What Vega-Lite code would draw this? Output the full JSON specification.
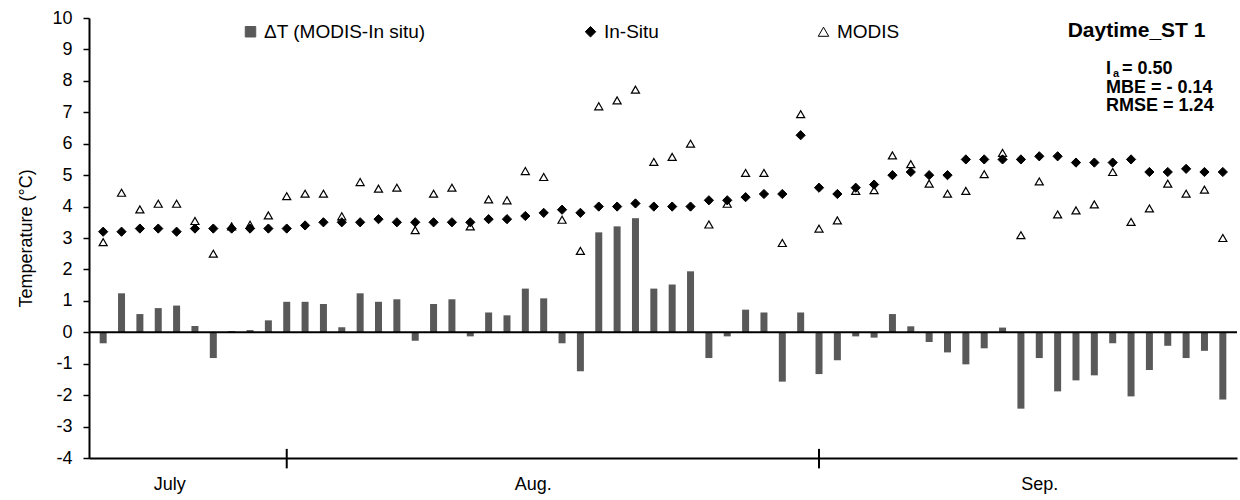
{
  "$schema": "https://vega.github.io/schema/vega-lite/v6.json",
  "width": 1148,
  "height": 440,
  "autosize": {"type": "none"},
  "padding": {"left": 89, "top": 18, "right": 3, "bottom": 42},
  "background": "white",
  "config": {
    "font": "Liberation Sans",
    "view": {"stroke": null},
    "axis": {"grid": false},
    "axisY": {
      "tickSize": 6, "tickColor": "black", "tickWidth": 1.5,
      "domainColor": "black", "domainWidth": 2,
      "labelFontSize": 18, "labelColor": "black", "labelPadding": 11,
      "labelOverlap": false, "labelFlush": false,
      "titleFontSize": 18, "titleFontWeight": "normal", "titleColor": "black", "titlePadding": 16
    },
    "axisX": {
      "ticks": false, "domainColor": "black", "domainWidth": 2,
      "labelFontSize": 18, "labelColor": "black", "labelPadding": 17,
      "labelFlush": false, "labelOverlap": false
    }
  },
  "datasets": {
    "temps": [
      {"day": 0, "ΔT (MODIS-In situ)": -0.35, "In-Situ": 3.2, "MODIS": 2.87},
      {"day": 1, "ΔT (MODIS-In situ)": 1.24, "In-Situ": 3.2, "MODIS": 4.44},
      {"day": 2, "ΔT (MODIS-In situ)": 0.58, "In-Situ": 3.3, "MODIS": 3.91},
      {"day": 3, "ΔT (MODIS-In situ)": 0.77, "In-Situ": 3.3, "MODIS": 4.09},
      {"day": 4, "ΔT (MODIS-In situ)": 0.85, "In-Situ": 3.2, "MODIS": 4.09},
      {"day": 5, "ΔT (MODIS-In situ)": 0.2, "In-Situ": 3.3, "MODIS": 3.54},
      {"day": 6, "ΔT (MODIS-In situ)": -0.82, "In-Situ": 3.3, "MODIS": 2.5},
      {"day": 7, "ΔT (MODIS-In situ)": 0.04, "In-Situ": 3.3, "MODIS": 3.37},
      {"day": 8, "ΔT (MODIS-In situ)": 0.07, "In-Situ": 3.3, "MODIS": 3.42},
      {"day": 9, "ΔT (MODIS-In situ)": 0.38, "In-Situ": 3.3, "MODIS": 3.72},
      {"day": 10, "ΔT (MODIS-In situ)": 0.97, "In-Situ": 3.3, "MODIS": 4.33},
      {"day": 11, "ΔT (MODIS-In situ)": 0.97, "In-Situ": 3.4, "MODIS": 4.41},
      {"day": 12, "ΔT (MODIS-In situ)": 0.9, "In-Situ": 3.5, "MODIS": 4.41},
      {"day": 13, "ΔT (MODIS-In situ)": 0.16, "In-Situ": 3.5, "MODIS": 3.69},
      {"day": 14, "ΔT (MODIS-In situ)": 1.24, "In-Situ": 3.5, "MODIS": 4.78},
      {"day": 15, "ΔT (MODIS-In situ)": 0.97, "In-Situ": 3.6, "MODIS": 4.57},
      {"day": 16, "ΔT (MODIS-In situ)": 1.05, "In-Situ": 3.5, "MODIS": 4.6},
      {"day": 17, "ΔT (MODIS-In situ)": -0.27, "In-Situ": 3.5, "MODIS": 3.25},
      {"day": 18, "ΔT (MODIS-In situ)": 0.9, "In-Situ": 3.5, "MODIS": 4.41},
      {"day": 19, "ΔT (MODIS-In situ)": 1.05, "In-Situ": 3.5, "MODIS": 4.6},
      {"day": 20, "ΔT (MODIS-In situ)": -0.13, "In-Situ": 3.5, "MODIS": 3.37},
      {"day": 21, "ΔT (MODIS-In situ)": 0.63, "In-Situ": 3.6, "MODIS": 4.23},
      {"day": 22, "ΔT (MODIS-In situ)": 0.54, "In-Situ": 3.6, "MODIS": 4.2},
      {"day": 23, "ΔT (MODIS-In situ)": 1.39, "In-Situ": 3.7, "MODIS": 5.13},
      {"day": 24, "ΔT (MODIS-In situ)": 1.08, "In-Situ": 3.8, "MODIS": 4.94},
      {"day": 25, "ΔT (MODIS-In situ)": -0.35, "In-Situ": 3.9, "MODIS": 3.58},
      {"day": 26, "ΔT (MODIS-In situ)": -1.24, "In-Situ": 3.8, "MODIS": 2.59},
      {"day": 27, "ΔT (MODIS-In situ)": 3.18, "In-Situ": 4.0, "MODIS": 7.19},
      {"day": 28, "ΔT (MODIS-In situ)": 3.37, "In-Situ": 4.0, "MODIS": 7.38},
      {"day": 29, "ΔT (MODIS-In situ)": 3.63, "In-Situ": 4.1, "MODIS": 7.72},
      {"day": 30, "ΔT (MODIS-In situ)": 1.39, "In-Situ": 4.0, "MODIS": 5.42},
      {"day": 31, "ΔT (MODIS-In situ)": 1.52, "In-Situ": 4.0, "MODIS": 5.58},
      {"day": 32, "ΔT (MODIS-In situ)": 1.94, "In-Situ": 4.0, "MODIS": 6.0},
      {"day": 33, "ΔT (MODIS-In situ)": -0.82, "In-Situ": 4.2, "MODIS": 3.43},
      {"day": 34, "ΔT (MODIS-In situ)": -0.13, "In-Situ": 4.2, "MODIS": 4.09},
      {"day": 35, "ΔT (MODIS-In situ)": 0.72, "In-Situ": 4.3, "MODIS": 5.07},
      {"day": 36, "ΔT (MODIS-In situ)": 0.63, "In-Situ": 4.4, "MODIS": 5.07},
      {"day": 37, "ΔT (MODIS-In situ)": -1.57, "In-Situ": 4.4, "MODIS": 2.84},
      {"day": 38, "ΔT (MODIS-In situ)": 0.63, "In-Situ": 6.27, "MODIS": 6.94},
      {"day": 39, "ΔT (MODIS-In situ)": -1.33, "In-Situ": 4.6, "MODIS": 3.3},
      {"day": 40, "ΔT (MODIS-In situ)": -0.89, "In-Situ": 4.4, "MODIS": 3.56},
      {"day": 41, "ΔT (MODIS-In situ)": -0.13, "In-Situ": 4.6, "MODIS": 4.5},
      {"day": 42, "ΔT (MODIS-In situ)": -0.17, "In-Situ": 4.7, "MODIS": 4.52},
      {"day": 43, "ΔT (MODIS-In situ)": 0.58, "In-Situ": 5.0, "MODIS": 5.63},
      {"day": 44, "ΔT (MODIS-In situ)": 0.19, "In-Situ": 5.1, "MODIS": 5.35},
      {"day": 45, "ΔT (MODIS-In situ)": -0.31, "In-Situ": 5.0, "MODIS": 4.73},
      {"day": 46, "ΔT (MODIS-In situ)": -0.64, "In-Situ": 5.0, "MODIS": 4.41},
      {"day": 47, "ΔT (MODIS-In situ)": -1.02, "In-Situ": 5.5, "MODIS": 4.5},
      {"day": 48, "ΔT (MODIS-In situ)": -0.51, "In-Situ": 5.5, "MODIS": 5.03},
      {"day": 49, "ΔT (MODIS-In situ)": 0.15, "In-Situ": 5.5, "MODIS": 5.71},
      {"day": 50, "ΔT (MODIS-In situ)": -2.43, "In-Situ": 5.5, "MODIS": 3.09},
      {"day": 51, "ΔT (MODIS-In situ)": -0.82, "In-Situ": 5.6, "MODIS": 4.8},
      {"day": 52, "ΔT (MODIS-In situ)": -1.88, "In-Situ": 5.6, "MODIS": 3.75},
      {"day": 53, "ΔT (MODIS-In situ)": -1.53, "In-Situ": 5.4, "MODIS": 3.88},
      {"day": 54, "ΔT (MODIS-In situ)": -1.37, "In-Situ": 5.4, "MODIS": 4.07},
      {"day": 55, "ΔT (MODIS-In situ)": -0.35, "In-Situ": 5.4, "MODIS": 5.1},
      {"day": 56, "ΔT (MODIS-In situ)": -2.04, "In-Situ": 5.5, "MODIS": 3.51},
      {"day": 57, "ΔT (MODIS-In situ)": -1.2, "In-Situ": 5.1, "MODIS": 3.94},
      {"day": 58, "ΔT (MODIS-In situ)": -0.43, "In-Situ": 5.1, "MODIS": 4.73},
      {"day": 59, "ΔT (MODIS-In situ)": -0.82, "In-Situ": 5.2, "MODIS": 4.41},
      {"day": 60, "ΔT (MODIS-In situ)": -0.59, "In-Situ": 5.1, "MODIS": 4.54},
      {"day": 61, "ΔT (MODIS-In situ)": -2.14, "In-Situ": 5.1, "MODIS": 3.0}
    ]
  },
  "layer": [
    {
      "data": {"name": "temps"},
      "transform": [
        {"fold": ["ΔT (MODIS-In situ)"], "as": ["series", "value"]}
      ],
      "mark": {"type": "bar", "size": 7},
      "encoding": {
        "x": {
          "field": "day", "type": "quantitative",
          "scale": {"domain": [-0.5, 61.5], "nice": false, "zero": false},
          "axis": {"title": null, "values": [3.6, 23.4, 51], "labelExpr": "datum.value < 10 ? 'July' : (datum.value < 40 ? 'Aug.' : 'Sep.')"}
        },
        "y": {
          "field": "value", "type": "quantitative",
          "scale": {"domain": [-4, 10], "nice": false},
          "axis": {"values": [-4, -3, -2, -1, 0, 1, 2, 3, 4, 5, 6, 7, 8, 9, 10], "title": "Temperature (°C)", "labelExpr": "datum.value < 0 ? '-' + abs(datum.value) : '' + datum.value"}
        },
        "y2": {"datum": 0},
        "fill": {
          "field": "series", "type": "nominal",
          "scale": {"domain": ["ΔT (MODIS-In situ)", "In-Situ", "MODIS"], "range": ["#595959", "#000000", "#ffffff"]},
          "legend": {
            "orient": "none", "legendX": 152, "legendY": 4, "direction": "horizontal",
            "title": null, "labelFontSize": 19, "labelColor": "black", "labelLimit": 0, "symbolSize": 110,
            "columnPadding": 155, "labelOffset": 4, "padding": 0, "symbolStrokeWidth": 1
          }
        }
      }
    },
    {
      "data": {"values": [{}]},
      "mark": {"type": "rule", "color": "black", "strokeWidth": 2},
      "encoding": {
        "y": {"datum": 0, "axis": {"values": [-4, -3, -2, -1, 0, 1, 2, 3, 4, 5, 6, 7, 8, 9, 10], "title": "Temperature (°C)", "labelExpr": "datum.value < 0 ? '-' + abs(datum.value) : '' + datum.value"}}
      }
    },
    {
      "data": {"values": [{}]},
      "mark": {"type": "rule", "color": "black", "strokeWidth": 2},
      "encoding": {
        "x": {"datum": 10, "axis": {"title": null, "values": [3.6, 23.4, 51], "labelExpr": "datum.value < 10 ? 'July' : (datum.value < 40 ? 'Aug.' : 'Sep.')"}},
        "y": {"datum": -4.33, "axis": {"values": [-4, -3, -2, -1, 0, 1, 2, 3, 4, 5, 6, 7, 8, 9, 10], "title": "Temperature (°C)", "labelExpr": "datum.value < 0 ? '-' + abs(datum.value) : '' + datum.value"}},
        "y2": {"datum": -3.71}
      }
    },
    {
      "data": {"values": [{}]},
      "mark": {"type": "rule", "color": "black", "strokeWidth": 2},
      "encoding": {
        "x": {"datum": 39, "axis": {"title": null, "values": [3.6, 23.4, 51], "labelExpr": "datum.value < 10 ? 'July' : (datum.value < 40 ? 'Aug.' : 'Sep.')"}},
        "y": {"datum": -4.33, "axis": {"values": [-4, -3, -2, -1, 0, 1, 2, 3, 4, 5, 6, 7, 8, 9, 10], "title": "Temperature (°C)", "labelExpr": "datum.value < 0 ? '-' + abs(datum.value) : '' + datum.value"}},
        "y2": {"datum": -3.71}
      }
    },
    {
      "data": {"name": "temps"},
      "transform": [
        {"fold": ["MODIS"], "as": ["series", "value"]}
      ],
      "mark": {"type": "point", "size": 65, "strokeWidth": 1.2, "opacity": 1},
      "encoding": {
        "x": {"field": "day", "type": "quantitative", "axis": {"title": null, "values": [3.6, 23.4, 51], "labelExpr": "datum.value < 10 ? 'July' : (datum.value < 40 ? 'Aug.' : 'Sep.')"}},
        "y": {"field": "value", "type": "quantitative", "axis": {"values": [-4, -3, -2, -1, 0, 1, 2, 3, 4, 5, 6, 7, 8, 9, 10], "title": "Temperature (°C)", "labelExpr": "datum.value < 0 ? '-' + abs(datum.value) : '' + datum.value"}},
        "fill": {"field": "series", "type": "nominal"},
        "stroke": {
          "field": "series", "type": "nominal",
          "scale": {"domain": ["ΔT (MODIS-In situ)", "In-Situ", "MODIS"], "range": ["#595959", "#000000", "#000000"]}
        },
        "shape": {
          "field": "series", "type": "nominal",
          "scale": {"domain": ["ΔT (MODIS-In situ)", "In-Situ", "MODIS"], "range": ["square", "diamond", "triangle-up"]}
        }
      }
    },
    {
      "data": {"name": "temps"},
      "transform": [
        {"fold": ["In-Situ"], "as": ["series", "value"]}
      ],
      "mark": {"type": "point", "size": 85, "strokeWidth": 1, "opacity": 1},
      "encoding": {
        "x": {"field": "day", "type": "quantitative", "axis": {"title": null, "values": [3.6, 23.4, 51], "labelExpr": "datum.value < 10 ? 'July' : (datum.value < 40 ? 'Aug.' : 'Sep.')"}},
        "y": {"field": "value", "type": "quantitative", "axis": {"values": [-4, -3, -2, -1, 0, 1, 2, 3, 4, 5, 6, 7, 8, 9, 10], "title": "Temperature (°C)", "labelExpr": "datum.value < 0 ? '-' + abs(datum.value) : '' + datum.value"}},
        "fill": {"field": "series", "type": "nominal"},
        "stroke": {"field": "series", "type": "nominal"},
        "shape": {"field": "series", "type": "nominal"}
      }
    },
    {
      "data": {"values": [{}]},
      "mark": {"type": "text", "align": "center", "baseline": "alphabetic", "fontSize": 21, "fontWeight": "bold", "color": "black"},
      "encoding": {
        "x": {"datum": 56.3, "axis": {"title": null, "values": [3.6, 23.4, 51], "labelExpr": "datum.value < 10 ? 'July' : (datum.value < 40 ? 'Aug.' : 'Sep.')"}},
        "y": {"datum": 9.4, "axis": {"values": [-4, -3, -2, -1, 0, 1, 2, 3, 4, 5, 6, 7, 8, 9, 10], "title": "Temperature (°C)", "labelExpr": "datum.value < 0 ? '-' + abs(datum.value) : '' + datum.value"}},
        "text": {"value": "Daytime_ST  1"}
      }
    },
    {
      "data": {"values": [{}]},
      "mark": {"type": "text", "align": "left", "baseline": "alphabetic", "fontSize": 18, "fontWeight": "bold", "color": "black"},
      "encoding": {
        "x": {"datum": 54.64, "axis": {"title": null, "values": [3.6, 23.4, 51], "labelExpr": "datum.value < 10 ? 'July' : (datum.value < 40 ? 'Aug.' : 'Sep.')"}},
        "y": {"datum": 8.22, "axis": {"values": [-4, -3, -2, -1, 0, 1, 2, 3, 4, 5, 6, 7, 8, 9, 10], "title": "Temperature (°C)", "labelExpr": "datum.value < 0 ? '-' + abs(datum.value) : '' + datum.value"}},
        "text": {"value": "I"}
      }
    },
    {
      "data": {"values": [{}]},
      "mark": {"type": "text", "align": "left", "baseline": "alphabetic", "fontSize": 11, "fontWeight": "bold", "color": "black", "dx": 7, "dy": 3},
      "encoding": {
        "x": {"datum": 54.64, "axis": {"title": null, "values": [3.6, 23.4, 51], "labelExpr": "datum.value < 10 ? 'July' : (datum.value < 40 ? 'Aug.' : 'Sep.')"}},
        "y": {"datum": 8.22, "axis": {"values": [-4, -3, -2, -1, 0, 1, 2, 3, 4, 5, 6, 7, 8, 9, 10], "title": "Temperature (°C)", "labelExpr": "datum.value < 0 ? '-' + abs(datum.value) : '' + datum.value"}},
        "text": {"value": "a"}
      }
    },
    {
      "data": {"values": [{}]},
      "mark": {"type": "text", "align": "left", "baseline": "alphabetic", "fontSize": 18, "fontWeight": "bold", "color": "black", "dx": 16},
      "encoding": {
        "x": {"datum": 54.64, "axis": {"title": null, "values": [3.6, 23.4, 51], "labelExpr": "datum.value < 10 ? 'July' : (datum.value < 40 ? 'Aug.' : 'Sep.')"}},
        "y": {"datum": 8.22, "axis": {"values": [-4, -3, -2, -1, 0, 1, 2, 3, 4, 5, 6, 7, 8, 9, 10], "title": "Temperature (°C)", "labelExpr": "datum.value < 0 ? '-' + abs(datum.value) : '' + datum.value"}},
        "text": {"value": "= 0.50"}
      }
    },
    {
      "data": {"values": [{}]},
      "mark": {"type": "text", "align": "left", "baseline": "alphabetic", "fontSize": 18, "fontWeight": "bold", "color": "black"},
      "encoding": {
        "x": {"datum": 54.64, "axis": {"title": null, "values": [3.6, 23.4, 51], "labelExpr": "datum.value < 10 ? 'July' : (datum.value < 40 ? 'Aug.' : 'Sep.')"}},
        "y": {"datum": 7.62, "axis": {"values": [-4, -3, -2, -1, 0, 1, 2, 3, 4, 5, 6, 7, 8, 9, 10], "title": "Temperature (°C)", "labelExpr": "datum.value < 0 ? '-' + abs(datum.value) : '' + datum.value"}},
        "text": {"value": "MBE = - 0.14"}
      }
    },
    {
      "data": {"values": [{}]},
      "mark": {"type": "text", "align": "left", "baseline": "alphabetic", "fontSize": 18, "fontWeight": "bold", "color": "black"},
      "encoding": {
        "x": {"datum": 54.64, "axis": {"title": null, "values": [3.6, 23.4, 51], "labelExpr": "datum.value < 10 ? 'July' : (datum.value < 40 ? 'Aug.' : 'Sep.')"}},
        "y": {"datum": 7.05, "axis": {"values": [-4, -3, -2, -1, 0, 1, 2, 3, 4, 5, 6, 7, 8, 9, 10], "title": "Temperature (°C)", "labelExpr": "datum.value < 0 ? '-' + abs(datum.value) : '' + datum.value"}},
        "text": {"value": "RMSE = 1.24"}
      }
    }
  ]
}
